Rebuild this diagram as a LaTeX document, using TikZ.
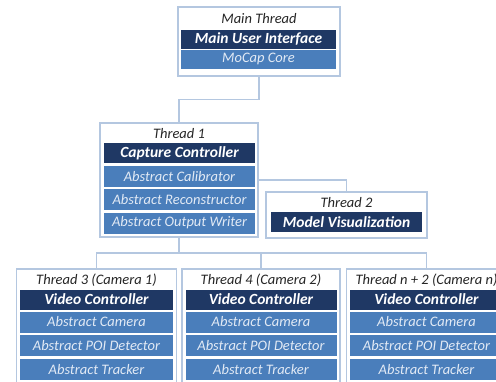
\documentclass[tikz,border=0pt]{standalone}
\usepackage{fontspec}
\setmainfont{Carlito}
\definecolor{navy}{HTML}{1F3864}
\definecolor{midblue}{HTML}{4A7EBB}
\definecolor{edgeblue}{HTML}{B4C7E0}
\definecolor{paleblue}{HTML}{E2EAF5}
\definecolor{titlegray}{HTML}{262626}
\usetikzlibrary{calc}
\tikzset{
  frame/.style={
    draw=edgeblue, fill=white, line width=1.1pt, inner sep=0pt,
    minimum width=#1
  },
  frame/.default=160pt,
  ttl/.style={font=\fontsize{14.5}{16}\selectfont\itshape, text=titlegray},
  head/.style={
    fill=navy, inner sep=0pt, minimum width=#1, minimum height=20pt,
    font=\fontsize{15.5}{17}\selectfont\bfseries\itshape, text=white
  },
  head/.default=153pt,
  part/.style={
    fill=midblue, inner sep=0pt, minimum width=#1, minimum height=21pt,
    font=\fontsize{14.5}{16}\selectfont\itshape, text=paleblue
  },
  part/.default=153pt,
  link/.style={draw=edgeblue, line width=1.1pt},
}

\begin{document}
\begin{tikzpicture}[x=1pt, y=-1pt]
    \useasboundingbox (0,0) rectangle (496,381);
    \fill[white] (0,0) rectangle (496,381);
    \clip (0,0) rectangle (496,381);

    % main thread
    \node[frame=162pt, minimum height=69pt] (main) at (259,41.5) {};
    \node[ttl] (mainttl) at (259,19) {Main Thread};
    \node[head=155pt, minimum height=19pt] (mainui) at (258.5,39) {Main User Interface};
    \node[part=155pt, minimum height=19pt] (mocap) at (258.5,59) {MoCap Core};

    % thread 1
    \node[frame=158pt, minimum height=114pt] (t1) at (179,180) {};
    \node[ttl] (t1ttl) at (179,134) {Thread 1};
    \node[head=151pt] (capctl) at (179.5,153) {Capture Controller};
    \node[part=151pt] (calib) at (179.5,176.5) {Abstract Calibrator};
    \node[part=151pt] (recon) at (179.5,199.5) {Abstract Reconstructor};
    \node[part=151pt] (outwr) at (179.5,223) {Abstract Output Writer};

    % thread 2
    \node[frame=161pt, minimum height=46pt] (t2) at (346.5,215) {};
    \node[ttl] (t2ttl) at (346.5,203) {Thread 2};
    \node[head=151pt] (modvis) at (346.5,222) {Model Visualization};

    % camera threads
    \node[frame, minimum height=122pt] (t3) at (96.5,330) {};
    \node[ttl] (t3ttl) at (96.5,280) {Thread 3 (Camera 1)};
    \node[head] (vc3) at (96.5,299.5) {Video Controller};
    \node[part] (cam3) at (96.5,322) {Abstract Camera};
    \node[part] (poi3) at (96.5,345.5) {Abstract POI Detector};
    \node[part] (trk3) at (96.5,369.5) {Abstract Tracker};

    \node[frame=158pt, minimum height=122pt] (t4) at (261,330) {};
    \node[ttl] (t4ttl) at (261,280) {Thread 4 (Camera 2)};
    \node[head=151pt] (vc4) at (261,299.5) {Video Controller};
    \node[part=151pt] (cam4) at (261,322) {Abstract Camera};
    \node[part=151pt] (poi4) at (261,345.5) {Abstract POI Detector};
    \node[part=151pt] (trk4) at (261,369.5) {Abstract Tracker};

    \node[frame, minimum height=122pt] (tn) at (426.5,330) {};
    \node[ttl] (tnttl) at (426.5,280) {Thread n + 2 (Camera n)};
    \node[head] (vcn) at (426.5,299.5) {Video Controller};
    \node[part] (camn) at (426.5,322) {Abstract Camera};
    \node[part] (poin) at (426.5,345.5) {Abstract POI Detector};
    \node[part] (trkn) at (426.5,369.5) {Abstract Tracker};

    % connectors
    \coordinate (bus) at (179,253);
    \draw[link] (main.south) |- ($(main.south)!.5!(t1.north)$) -| (t1.north);
    \draw[link] (t1.east) -| (t2.north);
    \draw[link] (t1.south) -- (bus);
    \draw[link] (t3.north) |- (bus) -| (tn.north);
    \draw[link] (t4.north) -- (t4.north |- bus);
  \end{tikzpicture}
\end{document}
